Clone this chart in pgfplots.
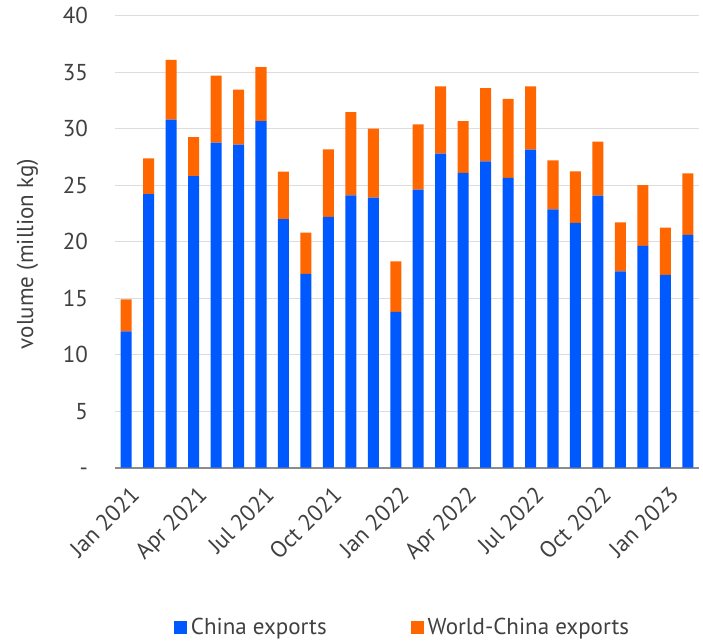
\documentclass[border=0pt]{standalone}
\usepackage{fontspec}
\setmainfont{PT Sans}
\usepackage{pgfplots}
\pgfplotsset{compat=1.18}
\definecolor{cblue}{RGB}{0,88,255}
\definecolor{corange}{RGB}{255,102,0}
\definecolor{txt}{RGB}{64,64,64}
\definecolor{gridc}{RGB}{221,221,221}
\definecolor{axc}{RGB}{140,140,140}
\begin{document}
\begin{tikzpicture}[font=\fontsize{11.5bp}{14bp}\selectfont, text=txt]
\begin{axis}[
  name=ax,
  scale only axis, width=292bp, height=226bp,
  ybar stacked, bar width=0.49,
  xmin=-0.5, xmax=25.5, ymin=0, ymax=40,
  xtick={0,3,...,24},
  xticklabels={Jan 2021,Apr 2021,Jul 2021,Oct 2021,Jan 2022,Apr 2022,Jul 2022,Oct 2022,Jan 2023},
  ytick={0,5,...,40},
  yticklabels={-,5,10,15,20,25,30,35,40},
  major tick length=0pt,
  ymajorgrids, major grid style={draw=gridc, line width=0.7bp},
  axis x line*=bottom, axis y line*=left,
  x axis line style={draw=axc, line width=0.8bp},
  y axis line style={draw=none},
  xticklabel style={inner sep=0pt, yshift=-8.5bp, xshift=1.5bp, rotate=45, anchor=north east},
  yticklabel style={inner sep=0pt, anchor=base east, xshift=-13.3bp, yshift=-4bp},
  ylabel={volume (million kg)},
  ylabel style={at={(axis description cs:-0.15,0.473)}, anchor=center},
  legend columns=2,
  legend style={draw=none, fill=none, at={(axis description cs:0.494,-0.354)}, anchor=center,
    /tikz/every even column/.append style={column sep=40bp}},
  legend image code/.code={\fill[#1] (0bp,-3.25bp) rectangle (6.5bp,3.25bp);},
]
\addplot[fill=cblue, draw=none] coordinates {
(0,12.06)(1,24.2)(2,30.8)(3,25.8)(4,28.76)(5,28.6)(6,30.67)(7,22.0)(8,17.16)(9,22.2)
(10,24.1)(11,23.9)(12,13.8)(13,24.6)(14,27.8)(15,26.1)(16,27.1)(17,25.64)(18,28.14)(19,22.87)
(20,21.66)(21,24.08)(22,17.37)(23,19.63)(24,17.07)(25,20.6)};
\addlegendentry{China exports}
\addplot[fill=corange, draw=none] coordinates {
(0,2.84)(1,3.17)(2,5.3)(3,3.46)(4,5.94)(5,4.85)(6,4.78)(7,4.2)(8,3.64)(9,5.97)
(10,7.37)(11,6.1)(12,4.45)(13,5.78)(14,5.94)(15,4.57)(16,6.5)(17,7.01)(18,5.6)(19,4.33)
(20,4.57)(21,4.77)(22,4.35)(23,5.37)(24,4.18)(25,5.45)};
\addlegendentry{World-China exports}
\end{axis}
\pgfresetboundingbox
\useasboundingbox ([xshift=-57.5bp,yshift=-86.5bp]ax.south west) rectangle ([xshift=2bp,yshift=7.85bp]ax.north east);
\end{tikzpicture}
\end{document}
